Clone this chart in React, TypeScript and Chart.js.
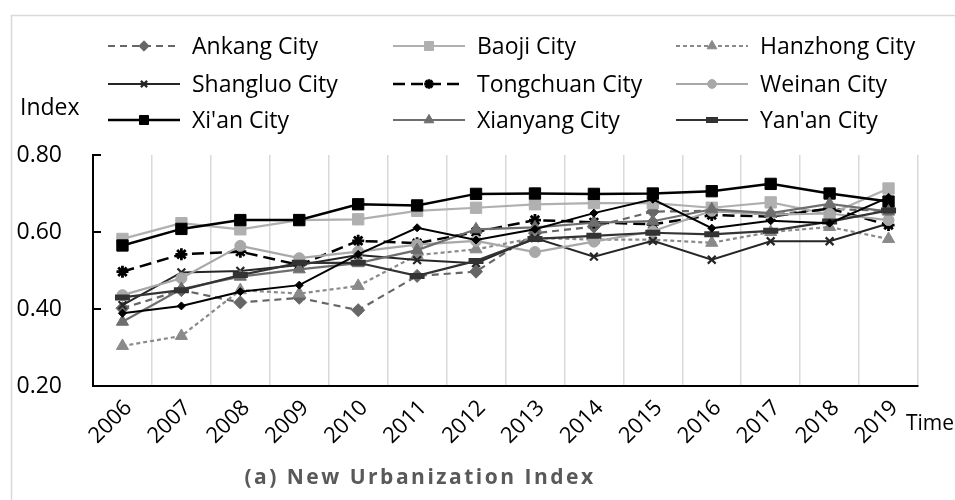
import React, { useEffect, useRef } from "react";
import { Chart, registerables } from "chart.js";
import { drawPoint } from "chart.js/helpers";

Chart.register(...registerables);

const years = ["2006", "2007", "2008", "2009", "2010", "2011", "2012", "2013", "2014", "2015", "2016", "2017", "2018", "2019"];
const yTicks = [0.2, 0.4, 0.6, 0.8];

const ankang = [0.402, 0.449, 0.417, 0.429, 0.397, 0.486, 0.497, 0.597, 0.614, 0.653, 0.655, 0.645, 0.66, 0.655];
const baoji = [0.582, 0.623, 0.607, 0.631, 0.633, 0.655, 0.663, 0.672, 0.675, 0.675, 0.663, 0.677, 0.646, 0.713];
const hanzhong = [0.304, 0.33, 0.449, 0.44, 0.46, 0.54, 0.555, 0.585, 0.58, 0.58, 0.572, 0.6, 0.613, 0.582];
const shangluo = [0.41, 0.495, 0.499, 0.514, 0.54, 0.527, 0.519, 0.584, 0.536, 0.577, 0.528, 0.576, 0.576, 0.622];
const tongchuan = [0.497, 0.542, 0.549, 0.514, 0.577, 0.571, 0.6, 0.631, 0.625, 0.62, 0.644, 0.64, 0.661, 0.618];
const weinan = [0.436, 0.48, 0.564, 0.532, 0.549, 0.567, 0.577, 0.548, 0.575, 0.602, 0.655, 0.645, 0.648, 0.631];
const xian = [0.565, 0.608, 0.631, 0.631, 0.672, 0.669, 0.699, 0.7, 0.699, 0.7, 0.706, 0.725, 0.7, 0.679];
const xianyang = [0.367, 0.452, 0.484, 0.503, 0.519, 0.553, 0.607, 0.612, 0.624, 0.628, 0.659, 0.649, 0.673, 0.653];
const yanan = [0.43, 0.449, 0.488, 0.52, 0.52, 0.486, 0.525, 0.582, 0.59, 0.598, 0.594, 0.603, 0.627, 0.656];
const extra = [0.389, 0.408, 0.445, 0.462, 0.542, 0.611, 0.579, 0.607, 0.649, 0.685, 0.61, 0.629, 0.623, 0.69];

const names = ["Ankang City", "Baoji City", "Hanzhong City", "Shangluo City", "Tongchuan City", "Weinan City", "Xi'an City", "Xianyang City", "Yan'an City"];
const values = [ankang, baoji, hanzhong, shangluo, tongchuan, weinan, xian, xianyang, yanan];

const styles = [
  { color: "#666666", dash: [7, 5], width: 2.2, point: "rectRot", r: 6.5, pbw: 1 },
  { color: "#b0b0b0", dash: [], width: 2.2, point: "rect", r: 8, pbw: 1 },
  { color: "#8a8a8a", dash: [4, 3], width: 2.2, point: "triangle", r: 7, pbw: 1 },
  { color: "#262626", dash: [], width: 2, point: "crossRot", r: 5.5, pbw: 2.2 },
  { color: "#000000", dash: [12, 6], width: 2.5, point: "star", r: 6, pbw: 2.8 },
  { color: "#a8a8a8", dash: [], width: 2.2, point: "circle", r: 5.5, pbw: 1 },
  { color: "#000000", dash: [], width: 2.5, point: "rect", r: 8, pbw: 1 },
  { color: "#6e6e6e", dash: [], width: 2.2, point: "triangle", r: 7, pbw: 1 },
  { color: "#333333", dash: [], width: 2.2, point: "line", r: 7.5, pbw: 6 },
];
const extraStyle = { color: "#000000", dash: [], width: 2, point: "rectRot", r: 4, pbw: 1 };

const FONT = "'Open Sans', 'Liberation Sans', sans-serif";

const legendCols = [108, 393, 676];
const legendRows = [46, 84, 120];

const decor = {
  id: "decor",
  beforeDraw(chart: any) {
    const ctx = chart.ctx;
    ctx.save();
    ctx.fillStyle = "#ffffff";
    ctx.fillRect(0, 0, chart.width, chart.height);
    ctx.strokeStyle = "#d9d9d9";
    ctx.lineWidth = 1.5;
    ctx.strokeRect(11.5, 15.5, 1200, 1200);
    ctx.restore();
  },
  afterDraw(chart: any) {
    const ctx = chart.ctx;
    const area = chart.chartArea;
    const ys = chart.scales.y;
    ctx.save();
    ctx.strokeStyle = "#000";
    ctx.lineWidth = 2;
    yTicks.forEach((v) => {
      const y = ys.getPixelForValue(v);
      ctx.beginPath();
      ctx.moveTo(area.left, y);
      ctx.lineTo(area.left + 8, y);
      ctx.stroke();
    });
    ctx.font = `23px ${FONT}`;
    ctx.textBaseline = "middle";
    ctx.textAlign = "left";
    names.forEach((name, i) => {
      const s = styles[i];
      const x0 = legendCols[i % 3];
      const y = legendRows[Math.floor(i / 3)];
      ctx.strokeStyle = s.color;
      ctx.fillStyle = s.color;
      ctx.lineWidth = s.width;
      ctx.setLineDash(s.dash);
      ctx.beginPath();
      ctx.moveTo(x0, y);
      ctx.lineTo(x0 + 72, y);
      ctx.stroke();
      ctx.setLineDash([]);
      ctx.lineWidth = s.pbw;
      drawPoint(ctx, { pointStyle: s.point, radius: s.r * 0.8, borderWidth: s.pbw, rotation: 0 }, x0 + 36, y);
      ctx.fillStyle = "#000";
      ctx.fillText(name, x0 + 84, y + 1);
    });
    ctx.fillStyle = "#000";
    ctx.font = `23px ${FONT}`;
    ctx.fillText("Index", 20, 108);
    ctx.font = `21px ${FONT}`;
    ctx.textAlign = "right";
    ctx.fillText("Time", 954, 424);
    ctx.fillStyle = "#595959";
    ctx.font = `bold 21px ${FONT}`;
    ctx.textAlign = "center";
    (ctx as any).letterSpacing = "2.5px";
    ctx.fillText("(a) New Urbanization Index", 420, 478);
    ctx.restore();
  },
};

export default function App() {
  const ref = useRef<HTMLCanvasElement>(null);
  useEffect(() => {
    document.body.style.margin = "0";
    const mk = (data: number[], s: any, label: string, i: number) => ({
      label,
      data,
      borderColor: s.color,
      backgroundColor: s.color,
      borderWidth: s.width,
      borderDash: s.dash,
      pointStyle: s.point,
      pointRadius: s.r,
      pointBorderWidth: s.pbw,
      pointBackgroundColor: s.color,
      pointBorderColor: s.color,
      tension: 0,
      fill: false,
      order: 20 - i,
    });
    const datasets = values.map((v, i) => mk(v, styles[i], names[i], i));
    datasets.push(mk(extra, extraStyle, "", 9));
    const chart = new Chart(ref.current as HTMLCanvasElement, {
      type: "line",
      data: { labels: years, datasets },
      options: {
        responsive: false,
        animation: false,
        layout: { padding: { top: 155, left: 0, right: 37, bottom: 0 } },
        plugins: { legend: { display: false }, tooltip: { enabled: false }, title: { display: false } },
        scales: {
          x: {
            offset: true,
            afterFit: (s: any) => {
              s.height = 114;
            },
            grid: { offset: true, color: "#d9d9d9", lineWidth: 1.5, drawTicks: false },
            border: { display: true, color: "#000", width: 2 },
            ticks: {
              color: "#000",
              font: { family: FONT, size: 22 },
              minRotation: 45,
              maxRotation: 45,
              padding: 9,
              labelOffset: 6,
              autoSkip: false,
            },
          },
          y: {
            min: 0.2,
            max: 0.8,
            afterFit: (s: any) => {
              s.width = 93;
            },
            afterBuildTicks: (s: any) => {
              s.ticks = yTicks.map((v) => ({ value: v }));
            },
            grid: { display: false, drawTicks: false },
            border: { display: true, color: "#000", width: 2 },
            ticks: {
              color: "#000",
              font: { family: FONT, size: 23 },
              padding: 31,
              callback: (v: any) => Number(v).toFixed(2),
            },
          },
        },
      },
      plugins: [decor],
    });
    return () => chart.destroy();
  }, []);
  return (
    <div style={{ width: 955, height: 500 }}>
      <canvas ref={ref} width={955} height={500} />
    </div>
  );
}
